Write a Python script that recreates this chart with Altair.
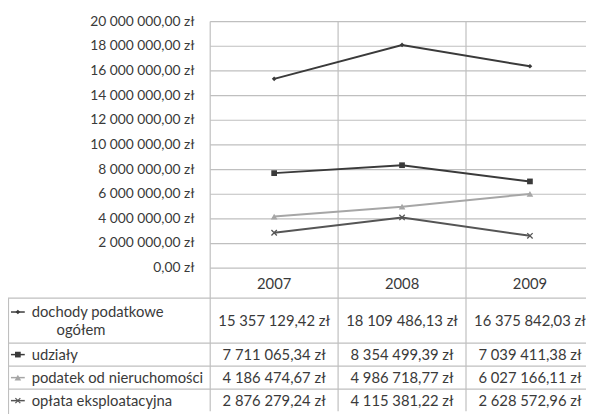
import altair as alt
import pandas as pd

# ---------------- data ----------------
years = ["2007", "2008", "2009"]
series = ["dochody podatkowe ogółem", "udziały", "podatek od nieruchomości", "opłata eksploatacyjna"]
dochody = [15357129.42, 18109486.13, 16375842.03]
udzialy = [7711065.34, 8354499.39, 7039411.38]
podatek = [4186474.67, 4986718.77, 6027166.11]
oplata = [2876279.24, 4115381.22, 2628572.96]
y_ticks = [0, 2e6, 4e6, 6e6, 8e6, 10e6, 12e6, 14e6, 16e6, 18e6, 20e6]
row_labels = ["dochody podatkowe", "udziały", "podatek od nieruchomości", "opłata eksploatacyjna"]
row_idx = [0.55, 2, 3, 4]          # table row centres (row 1 spans two text lines)
label_idx = [0.15, 2, 3, 4]
colors = ["#3a3a3a", "#3a3a3a", "#a6a6a6", "#555555"]

FONT = "Lato"
TXT = "#3a3a3a"
GRID = "#bfbfbf"
TFS = 15


def zl(v):
    s = f"{v:,.2f}".replace(",", " ").replace(".", ",")
    return s + " zł"


all_vals = [dochody, udzialy, podatek, oplata]
rows = []
for s, vals, ri in zip(series, all_vals, row_idx):
    for y, v in zip(years, vals):
        rows.append({"series": s, "year": y, "value": v, "txt": zl(v), "ri": ri})
df = pd.DataFrame(rows)

ticks_df = pd.DataFrame({"v": y_ticks, "lab": [zl(t) for t in y_ticks]})
years_df = pd.DataFrame({"year": years, "ri": [-1.07] * 3})
labels_df = pd.DataFrame({"lab": row_labels, "ri": label_idx, "series": series})
hlines_df = pd.DataFrame({"ri": [-0.45, 1.5, 2.5, 3.5]})
vline_df = pd.DataFrame({"a": [-0.45], "b": [4.7]})

W, H = 586, 406
xs = alt.Scale(type="band", domain=years, range=[205, 594], paddingInner=0, paddingOuter=0)
ys = alt.Scale(type="linear", domain=[0, 20e6], range=[261, 11], nice=False, zero=False)
ts = alt.Scale(type="linear", domain=[-1.71, 4.46], range=[262, 406], nice=False, zero=False)
cs = alt.Scale(domain=series, range=colors)
X = lambda **kw: alt.X("year:N", scale=xs, axis=None, **kw)

hgrid = alt.Chart(ticks_df).mark_rule(color=GRID, strokeWidth=1.2).encode(
    y=alt.Y("v:Q", scale=ys, axis=None), x=alt.value(205), x2=alt.value(594)
)
ylabels = alt.Chart(ticks_df).mark_text(align="right", baseline="middle", font=FONT, fontSize=14, color=TXT).encode(
    y=alt.Y("v:Q", scale=ys, axis=None), x=alt.value(189), text="lab:N"
)
vgrid = alt.Chart(pd.DataFrame({"year": years})).mark_rule(color=GRID, strokeWidth=1.2).encode(
    x=X(bandPosition=0), y=alt.value(11), y2=alt.value(H)
)
thl = alt.Chart(hlines_df).mark_rule(color=GRID, strokeWidth=1.2).encode(
    y=alt.Y("ri:Q", scale=ts, axis=None), x=alt.value(0), x2=alt.value(594)
)
tvl = alt.Chart(vline_df).mark_rule(color=GRID, strokeWidth=1.2).encode(
    y=alt.Y("a:Q", scale=ts, axis=None), y2="b:Q", x=alt.value(0.5)
)
lines = alt.Chart(df).mark_line(strokeWidth=2).encode(
    x=X(), y=alt.Y("value:Q", scale=ys, axis=None),
    color=alt.Color("series:N", scale=cs, legend=None), detail="series:N"
)
shape_s = alt.Scale(domain=series[:3], range=["diamond", "square", "triangle-up"])
size_s = alt.Scale(domain=series[:3], range=[22, 45, 30])
pts = alt.Chart(df).transform_filter(alt.datum.series != series[3]).mark_point(filled=True, opacity=1).encode(
    x=X(), y=alt.Y("value:Q", scale=ys, axis=None),
    color=alt.Color("series:N", scale=cs, legend=None),
    shape=alt.Shape("series:N", scale=shape_s, legend=None),
    size=alt.Size("series:N", scale=size_s, legend=None),
)
xpts = alt.Chart(df).transform_filter(alt.datum.series == series[3]).mark_point(
    shape="M-1,-1L1,1M-1,1L1,-1", filled=False, size=30, strokeWidth=1.3, opacity=1
).encode(
    x=X(), y=alt.Y("value:Q", scale=ys, axis=None),
    color=alt.Color("series:N", scale=cs, legend=None),
)
head = alt.Chart(years_df).mark_text(font=FONT, fontSize=TFS, color=TXT, baseline="middle").encode(
    x=X(), y=alt.Y("ri:Q", scale=ts, axis=None), text="year:N"
)
cells = alt.Chart(df).mark_text(font=FONT, fontSize=TFS, color=TXT, baseline="middle").encode(
    x=X(), y=alt.Y("ri:Q", scale=ts, axis=None), text="txt:N"
)
labs = alt.Chart(labels_df).mark_text(font=FONT, fontSize=TFS, color=TXT, align="left", baseline="middle").encode(
    x=alt.value(24), y=alt.Y("ri:Q", scale=ts, axis=None), text="lab:N"
)
labs2 = alt.Chart(pd.DataFrame({"lab": ["ogółem"], "ri": [0.95]})).mark_text(
    font=FONT, fontSize=TFS, color=TXT, align="center", baseline="middle"
).encode(x=alt.value(74), y=alt.Y("ri:Q", scale=ts, axis=None), text="lab:N")
keys = alt.Chart(labels_df).mark_rule(strokeWidth=1.5).encode(
    x=alt.value(3), x2=alt.value(17), y=alt.Y("ri:Q", scale=ts, axis=None),
    color=alt.Color("series:N", scale=cs, legend=None)
)
kpts = alt.Chart(labels_df).transform_filter(alt.datum.series != series[3]).mark_point(filled=True, opacity=1).encode(
    x=alt.value(10), y=alt.Y("ri:Q", scale=ts, axis=None),
    color=alt.Color("series:N", scale=cs, legend=None),
    shape=alt.Shape("series:N", scale=shape_s, legend=None),
    size=alt.Size("series:N", scale=size_s, legend=None),
)
kx = alt.Chart(labels_df).transform_filter(alt.datum.series == series[3]).mark_point(
    shape="M-1,-1L1,1M-1,1L1,-1", filled=False, size=25, strokeWidth=1.2, opacity=1
).encode(
    x=alt.value(10), y=alt.Y("ri:Q", scale=ts, axis=None),
    color=alt.Color("series:N", scale=cs, legend=None),
)

chart = alt.layer(
    hgrid, vgrid, thl, tvl, ylabels, lines, pts, xpts, head, cells, labs, labs2, keys, kpts, kx
).resolve_scale(y="independent").properties(
    width=W, height=H, autosize=alt.AutoSizeParams(type="none"), padding=0
).configure_view(stroke=None)

chart.save("out.html", embed_options={"renderer": "svg", "actions": False})
